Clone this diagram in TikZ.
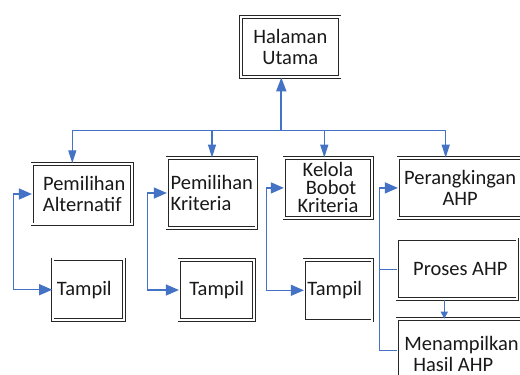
\documentclass[tikz,border=0pt]{standalone}
\usepackage{fontspec}
\setmainfont{Carlito}
\usetikzlibrary{arrows.meta}
\definecolor{linkblue}{HTML}{4472C4}
\tikzset{
  box/.style={draw=black!85, double=white, double distance=1.8bp, line width=0.9bp,
    inner sep=0pt, font=\fontsize{20.5bp}{21bp}\selectfont, text=black!90},
  link/.style={draw=linkblue, line width=1.3bp},
  droparrow/.style={link, -{Triangle[length=13bp,width=8bp]}},
  sidearrow/.style={link, {Triangle[length=13bp,width=11bp]}-{Triangle[length=13bp,width=11bp]}},
  onearrow/.style={link, -{Triangle[length=13bp,width=11bp]}},
  uparrow/.style={link, line width=2bp, -{Triangle[length=14bp,width=10bp]}},
  smallarrow/.style={link, -{Triangle[length=7bp,width=7bp]}}
}
\begin{document}
\begin{tikzpicture}[x=1bp,y=-1bp]
\useasboundingbox (0,0) rectangle (520,374);
\clip (0,0) rectangle (520,374);
\fill[white] (0,0) rectangle (520,374);

% boxes
\node[box, minimum width=98.7bp, minimum height=60bp, align=center] (top) at (290.3,47) {Halaman\\Utama};
\node[box, minimum width=99.7bp, minimum height=60.6bp, align=center] (alt) at (82.2,194) {\hspace*{4bp}Pemilihan\\Alternatif};
\node[box, minimum width=89bp, minimum height=70bp, align=left] (krit) at (211.8,193) {Pemilihan\\Kriteria};
\node[box, minimum width=87.4bp, minimum height=59.7bp, align=center,
      font=\fontsize{20.5bp}{18bp}\selectfont] (kel) at (328,187.9) {Kelola\\\hspace*{6bp}Bobot\\Kriteria};
\node[box, minimum width=123.7bp, minimum height=59.7bp, align=center] (rank) at (460.2,187.9) {Perangkingan\\AHP};
\node[box, minimum width=120bp, minimum height=59.7bp] (proses) at (457.3,269.2) {\hspace*{6bp}Proses AHP};
\node[box, minimum width=128.4bp, minimum height=69.7bp, align=left] (hasil) at (461.5,354) {Menampilkan\\\hspace*{9bp}Hasil AHP};
\node[box, minimum width=71.3bp, minimum height=60.7bp] (t1) at (88.3,289.7) {Tampil\hspace*{8bp}};
\node[box, minimum width=74.7bp, minimum height=60bp] (t2) at (216.7,290) {Tampil};
\node[box, minimum width=68bp, minimum height=60.7bp] (t3) at (338.3,290.3) {Tampil\hspace*{7bp}};

% bus
\coordinate (bus) at (281.3,130.7);
\coordinate (d1) at (72.3,130.7);
\coordinate (d2) at (212,130.7);
\coordinate (d3) at (324.3,130.7);
\coordinate (d4) at (445.7,130.7);
\draw[link] (d1) -- (d4);
\draw[uparrow] (bus) -- (bus |- top.south);
\draw[droparrow] (d1) -- (d1 |- alt.north);
\draw[droparrow] (d2) -- (d2 |- krit.north);
\draw[droparrow] (d3) -- (d3 |- kel.north);
\draw[droparrow] (d4) -- (d4 |- rank.north);

% side connectors
\coordinate (L1) at (13.3,0);
\coordinate (L2) at (147.3,0);
\coordinate (L3) at (266.3,0);
\draw[sidearrow] (alt.west) -- (alt.west -| L1) |- (t1.west);
\draw[sidearrow] (krit.west) -- (krit.west -| L2) |- (t2.west);
\draw[sidearrow] (kel.west) -- (kel.west -| L3) |- (t3.west);

% right group
\coordinate (M) at (379.3,350.7);
\draw[onearrow] (M) -- (M |- rank.west) -- (rank.west);
\draw[link] (proses.west) -- (proses.west -| M);
\draw[link] (M) -- (M -| hasil.west);
\coordinate (X) at (444.3,0);
\draw[smallarrow] (proses.south -| X) -- (hasil.north -| X);
\end{tikzpicture}
\end{document}
